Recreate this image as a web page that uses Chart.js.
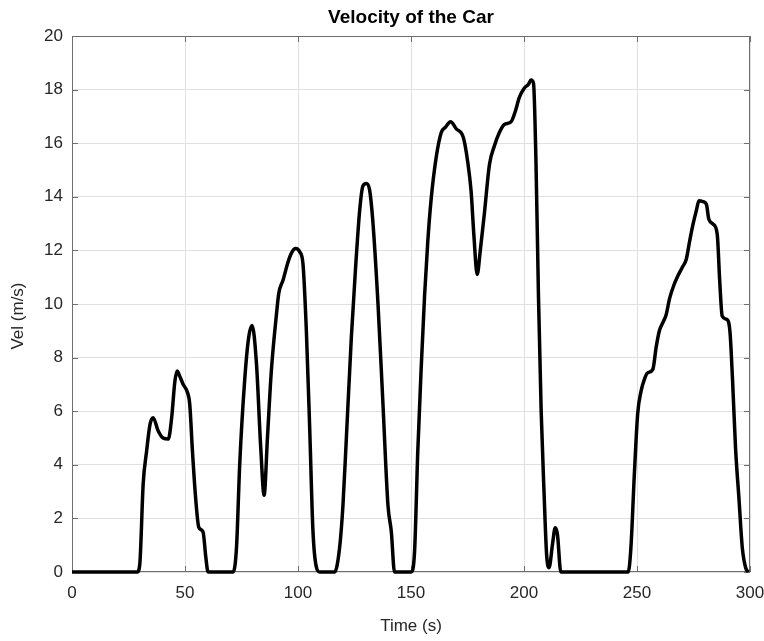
<!DOCTYPE html>
<html>
<head>
<meta charset="utf-8">
<title>Velocity of the Car</title>
<script src="https://cdn.jsdelivr.net/npm/chart.js@4"></script>
<style>
  html, body { margin: 0; padding: 0; background: #fff; }
  #wrap { width: 764px; height: 641px; }
</style>
</head>
<body>
<div id="wrap"><canvas id="velChart" width="764" height="641"></canvas></div>
<script>
// values
const timeS = [
  0, 28.9, 30.0, 31.5, 33.0, 34.5, 35.9, 38.1, 40.3, 42.6, 44.1, 45.5, 46.5, 47.7, 49.2, 51.1, 52.1, 53.3, 54.8, 56.1, 58.0, 59.2, 60.2,
  71.3, 72.8, 74.2, 76.4, 78.2, 79.7, 81.6, 83.5, 85.0, 86.5, 88.2, 90.5, 91.5, 93.4, 95.6, 97.1, 98.9, 100.8, 102.2, 103.7, 105.2, 106.6, 108.1, 109.6,
  116.2, 118.4, 119.9, 121.4, 123.6, 125.4, 127.3, 128.7, 130.2, 131.7, 133.1, 135.4, 137.6, 139.8, 141.3, 142.7,
  150.1, 151.6, 153.0, 154.5, 156.0, 157.4, 158.9, 161.2, 163.4, 165.3, 167.5, 170.0, 173.2, 175.1, 176.6, 177.8, 179.3, 180.6, 182.5, 184.7,
  186.9, 189.1, 191.3, 194.3, 196.2, 197.9, 200.1, 202.0, 203.1, 204.2, 205.3, 206.4, 207.6, 208.9, 210.0, 211.1, 212.6, 213.8, 214.8, 216.3,
  246.1, 247.3, 248.8, 250.3, 251.8, 253.3, 254.7, 257.0, 258.5, 259.9, 261.4, 262.9, 264.4, 266.3, 268.1, 270.0, 271.8, 273.3, 274.8, 276.3,
  277.4, 279.2, 280.7, 281.8, 283.7, 285.5, 286.6, 287.7, 289.6, 291.1, 292.3, 293.6, 295.1, 296.6, 298.1, 299.3
];
const velMS = [
  0, 0, 0.3, 3.3, 4.5, 5.5, 5.76, 5.27, 5.0, 4.96, 5.76, 7.1, 7.5, 7.3, 7.0, 6.7, 6.26, 4.5, 2.66, 1.67, 1.49, 0.56, 0,
  0, 0.93, 4.0, 7.15, 8.77, 9.2, 7.8, 4.66, 2.86, 5.04, 7.5, 9.64, 10.4, 10.9, 11.57, 11.9, 12.07, 11.94, 11.5, 9.0, 5.3, 1.56, 0.19, 0,
  0, 0.9, 2.5, 5.0, 8.75, 11.25, 13.5, 14.4, 14.5, 14.25, 13.1, 10.0, 6.25, 2.5, 1.5, 0,
  0, 0.8, 4.5, 7.6, 10.3, 12.3, 13.9, 15.5, 16.4, 16.6, 16.8, 16.54, 16.2, 15.3, 14.2, 12.6, 11.1, 11.95, 13.4, 15.2,
  15.9, 16.4, 16.7, 16.8, 17.2, 17.7, 18.05, 18.2, 18.36, 18.24, 15.3, 10.3, 6.0, 2.9, 0.66, 0.16, 1.03, 1.65, 1.4, 0,
  0, 0.9, 3.6, 5.9, 6.75, 7.2, 7.43, 7.56, 8.4, 9.0, 9.3, 9.6, 10.2, 10.7, 11.05, 11.36, 11.67, 12.35, 12.98, 13.5,
  13.85, 13.82, 13.72, 13.16, 12.98, 12.6, 10.86, 9.55, 9.43, 9.0, 7.12, 4.63, 2.76, 0.9, 0.15, 0
];
const xTicks = [0, 50, 100, 150, 200, 250, 300];
const yTicks = [0, 2, 4, 6, 8, 10, 12, 14, 16, 18, 20];
const yLabel = 'Vel (m/s)';

const FONT = '"Liberation Sans", Arial, Helvetica, sans-serif';
const TXT = '#262626';

// matlab-like box with inward tick marks on all four sides
const axesBox = {
  id: 'axesBox',
  beforeDatasetsDraw(chart) {
    const { ctx, chartArea: a, scales: { x, y } } = chart;
    ctx.save();
    ctx.strokeStyle = '#6e6e6e';
    ctx.lineWidth = 1;
    ctx.beginPath();
    x.ticks.forEach(t => {
      const px = Math.round(x.getPixelForValue(t.value)) + 0.5;
      ctx.moveTo(px, a.bottom); ctx.lineTo(px, a.bottom - 6);
      ctx.moveTo(px, a.top); ctx.lineTo(px, a.top + 6);
    });
    y.ticks.forEach(t => {
      const py = Math.round(y.getPixelForValue(t.value)) + 0.5;
      ctx.moveTo(a.left, py); ctx.lineTo(a.left + 6, py);
      ctx.moveTo(a.right, py); ctx.lineTo(a.right - 6, py);
    });
    ctx.stroke();
    ctx.strokeRect(Math.round(a.left) + 0.5, Math.round(a.top) + 0.5,
      Math.round(a.width) - 1, Math.round(a.height) - 1);
    ctx.restore();
  },
  // y label sits a little below the axis middle in the original
  afterDraw(chart) {
    const { ctx, chartArea: a } = chart;
    ctx.save();
    ctx.translate(18, (a.top + a.bottom) / 2 + 12);
    ctx.rotate(-Math.PI / 2);
    ctx.fillStyle = TXT;
    ctx.font = '17px ' + FONT;
    ctx.textAlign = 'center';
    ctx.textBaseline = 'middle';
    ctx.fillText(yLabel, 0, 0);
    ctx.restore();
  }
};

new Chart(document.getElementById('velChart').getContext('2d'), {
  type: 'line',
  data: {
    datasets: [{
      label: 'Velocity',
      data: timeS.map((t, i) => ({ x: t, y: velMS[i] })),
      borderColor: '#000',
      borderWidth: 3.5,
      pointRadius: 0,
      fill: false,
      cubicInterpolationMode: 'monotone',
      clip: false
    }]
  },
  options: {
    responsive: false,
    animation: false,
    layout: { padding: { top: 0, right: 14, bottom: 0, left: 0 } },
    plugins: {
      legend: { display: false },
      tooltip: { enabled: false },
      title: {
        display: true,
        text: 'Velocity of the Car',
        fullSize: false,
        color: '#000',
        font: { family: FONT, size: 19, weight: 'bold', lineHeight: 1 },
        padding: { top: 8, bottom: 9 }
      }
    },
    scales: {
      x: {
        type: 'linear',
        min: 0, max: 300,
        afterBuildTicks: s => { s.ticks = xTicks.map(v => ({ value: v })); },
        afterFit: s => { s.height = 69; s.paddingLeft = 0; s.paddingRight = 0; },
        grid: { color: '#e0e0e0', drawTicks: false },
        border: { display: false },
        ticks: { color: TXT, padding: 11, maxRotation: 0, font: { family: FONT, size: 17 } },
        title: { display: true, text: 'Time (s)', color: TXT, font: { family: FONT, size: 17 }, padding: { top: 0, bottom: 4 } }
      },
      y: {
        min: 0, max: 20,
        afterBuildTicks: s => { s.ticks = yTicks.map(v => ({ value: v })); },
        afterFit: s => { s.width = 72; s.paddingTop = 0; s.paddingBottom = 0; },
        grid: { color: '#e0e0e0', drawTicks: false },
        border: { display: false },
        ticks: { color: TXT, padding: 9, font: { family: FONT, size: 17 } },
        title: { display: false }
      }
    }
  },
  plugins: [axesBox]
});
</script>
</body>
</html>
